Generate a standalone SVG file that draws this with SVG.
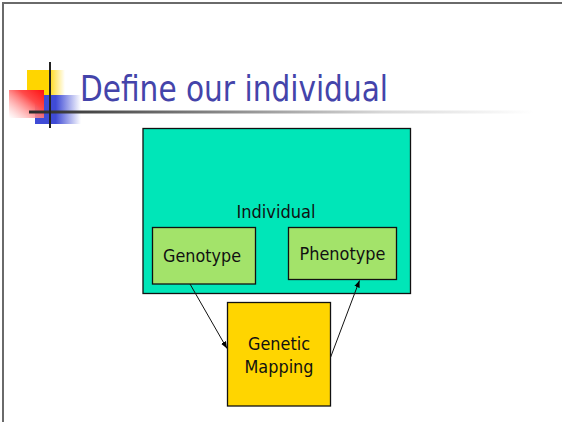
<svg xmlns="http://www.w3.org/2000/svg" width="562" height="422" viewBox="0 0 562 422">
<defs>
<linearGradient id="gy" x1="0" y1="0" x2="1" y2="0"><stop offset="0" stop-color="#ffd500"/><stop offset="0.55" stop-color="#ffd500"/><stop offset="1" stop-color="#ffd500" stop-opacity="0"/></linearGradient>
<linearGradient id="gb" x1="0" y1="0" x2="1" y2="0"><stop offset="0" stop-color="#3f4bd6"/><stop offset="0.45" stop-color="#3f4bd6"/><stop offset="1" stop-color="#3f4bd6" stop-opacity="0"/></linearGradient>
<linearGradient id="gr" x1="1" y1="0" x2="0" y2="1"><stop offset="0" stop-color="#ff1010"/><stop offset="0.35" stop-color="#ff4a4a"/><stop offset="1" stop-color="#ffffff" stop-opacity="0.6"/></linearGradient>
<linearGradient id="gl" x1="0" y1="0" x2="1" y2="0"><stop offset="0" stop-color="#2a2a2a"/><stop offset="0.35" stop-color="#808080"/><stop offset="0.7" stop-color="#d8d8d8"/><stop offset="1" stop-color="#ffffff"/></linearGradient>
<marker id="ah" viewBox="0 0 10 10" refX="10" refY="5" markerWidth="7" markerHeight="7" orient="auto" markerUnits="userSpaceOnUse"><path d="M0,1 L10,5 L0,9 z" fill="#000"/></marker>
<style>
.t{font-family:"DejaVu Sans","Liberation Sans",sans-serif;fill:#111;font-size:17.5px;text-anchor:middle}
.box{stroke:#111;stroke-width:1.3}
.c{stroke:#111;stroke-width:1;fill:none;marker-end:url(#ah)}
</style>
</defs>
<rect width="562" height="422" fill="#fff"/>
<path d="M3,422 V3 H562" fill="none" stroke="#6a6a6a" stroke-width="2"/>
<g id="logo">
<rect x="27" y="70" width="38" height="25" fill="url(#gy)"/>
<rect x="35" y="95" width="46" height="29" fill="url(#gb)"/>
<rect x="9" y="90" width="35" height="28" fill="url(#gr)"/>
<rect x="29" y="110.5" width="505" height="3" fill="url(#gl)"/>
<rect x="49" y="62" width="2" height="66" fill="#222"/>
</g>
<g id="title"><text x="80" y="101" font-family="DejaVu Sans, Liberation Sans, sans-serif" font-size="36" fill="#4444aa" textLength="308" lengthAdjust="spacingAndGlyphs">Define our individual</text></g>
<g id="individual">
<rect class="box" x="143" y="128.5" width="267.5" height="165" fill="#00e6b8"/>
<text class="t" x="276" y="217.5" textLength="79" lengthAdjust="spacingAndGlyphs">Individual</text>
</g>
<g id="genotype">
<rect class="box" x="152.5" y="227.5" width="103" height="56.5" fill="#a3e36a"/>
<text class="t" x="202" y="261.5" textLength="78" lengthAdjust="spacingAndGlyphs">Genotype</text>
</g>
<g id="phenotype">
<rect class="box" x="288.5" y="227.5" width="108" height="52" fill="#a3e36a"/>
<text class="t" x="342.5" y="260" textLength="86" lengthAdjust="spacingAndGlyphs">Phenotype</text>
</g>
<g id="mapping">
<rect class="box" x="227.5" y="302.5" width="103" height="103.5" fill="#ffd500"/>
<text class="t" x="279" y="350" textLength="62" lengthAdjust="spacingAndGlyphs">Genetic</text>
<text class="t" x="279" y="372.5" textLength="69" lengthAdjust="spacingAndGlyphs">Mapping</text>
</g>
<g id="connectors">
<line class="c" x1="190" y1="284" x2="227" y2="348.5"/>
<line class="c" x1="330.7" y1="357" x2="359.5" y2="280.5"/>
</g>
</svg>
